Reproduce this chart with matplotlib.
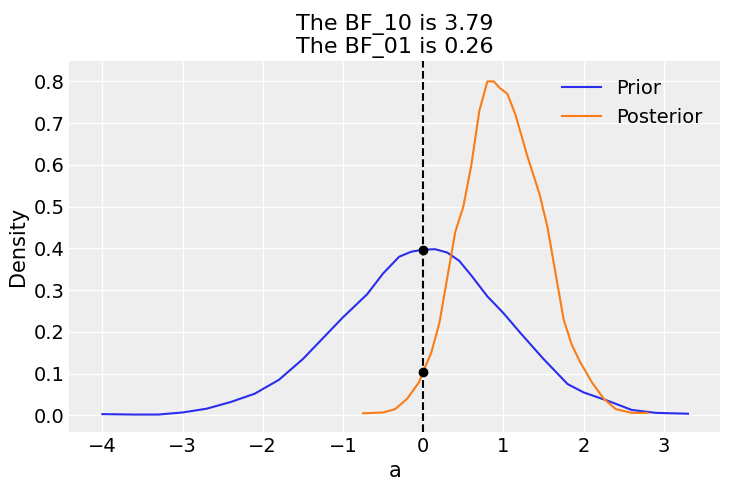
import matplotlib
matplotlib.use("Agg")
import matplotlib.pyplot as plt

prior_x = [-4.0,-3.6,-3.3,-3.0,-2.7,-2.4,-2.1,-1.8,-1.5,-1.2,-1.0,-0.7,-0.5,-0.3,-0.15,0.0,0.15,0.3,0.45,0.6,0.8,1.0,1.2,1.5,1.8,2.0,2.3,2.6,2.9,3.3]
prior_y = [0.003,0.002,0.002,0.007,0.016,0.032,0.052,0.085,0.135,0.195,0.235,0.29,0.34,0.38,0.392,0.397,0.398,0.39,0.37,0.335,0.285,0.245,0.2,0.135,0.075,0.055,0.035,0.013,0.006,0.004]
post_x = [-0.75,-0.5,-0.35,-0.2,-0.05,0.0,0.1,0.2,0.3,0.4,0.5,0.6,0.7,0.8,0.88,0.95,1.05,1.15,1.3,1.45,1.55,1.65,1.75,1.85,1.95,2.1,2.25,2.4,2.6,2.8]
post_y = [0.005,0.007,0.015,0.04,0.08,0.105,0.15,0.22,0.33,0.44,0.5,0.6,0.73,0.8,0.8,0.785,0.77,0.72,0.62,0.53,0.45,0.34,0.23,0.17,0.13,0.08,0.04,0.015,0.006,0.006]
dens_at_zero = [0.397, 0.105]
bf10, bf01 = 3.79, 0.26

plt.rcParams['font.family'] = 'DejaVu Sans'
fig, ax = plt.subplots(figsize=(7.31, 4.91), dpi=100)
fig.subplots_adjust(left=0.095, right=0.985, top=0.875, bottom=0.12)
ax.set_facecolor('#eeeeee')
for s in ax.spines.values():
    s.set_visible(False)
ax.grid(True, color='white', linewidth=1)
ax.set_axisbelow(True)
ax.plot(prior_x, prior_y, color='#2a2eec', label='Prior', lw=1.5)
ax.plot(post_x, post_y, color='#fa7c17', label='Posterior', lw=1.5)
ax.axvline(0, color='black', ls='--', lw=1.5)
ax.plot([0, 0], dens_at_zero, 'ko', ms=6, zorder=5)
ax.set_xlim(-4.41, 3.7)
ax.set_ylim(-0.04, 0.848)
ax.set_xticks(range(-4, 4))
ax.set_yticks([i/10 for i in range(9)])
ax.tick_params(labelsize=14, length=0)
ax.set_xlabel('a', fontsize=15)
ax.set_ylabel('Density', fontsize=15)
ax.set_title(f'The BF_10 is {bf10:.2f}\nThe BF_01 is {bf01:.2f}', fontsize=16, linespacing=1.1)
ax.legend(frameon=False, fontsize=14, loc='upper right')
fig.savefig('out.png', dpi=100, facecolor='white')
